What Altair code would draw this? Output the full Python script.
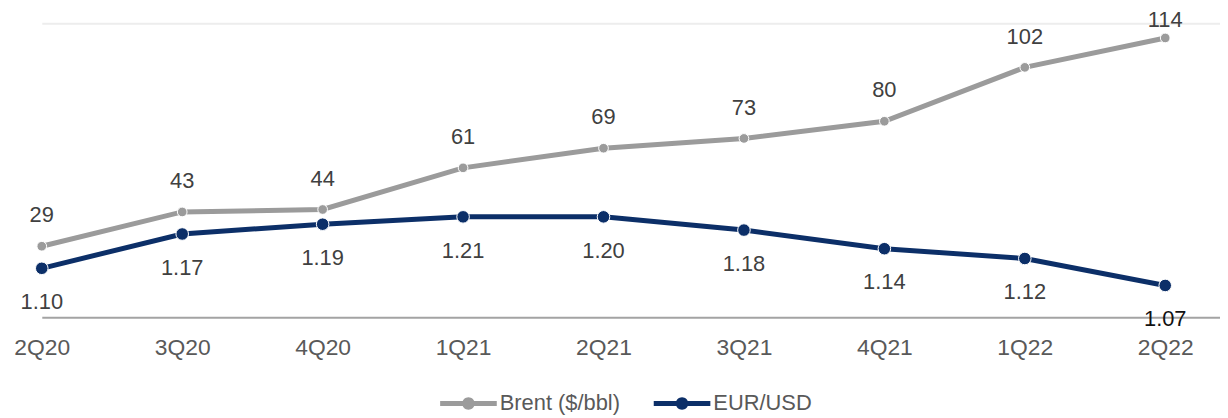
import altair as alt
import pandas as pd

quarters = ["2Q20", "3Q20", "4Q20", "1Q21", "2Q21", "3Q21", "4Q21", "1Q22", "2Q22"]
brent = [29, 43, 44, 61, 69, 73, 80, 102, 114]
brent_labels = ["29", "43", "44", "61", "69", "73", "80", "102", "114"]
eurusd = [1.10, 1.17, 1.19, 1.205, 1.205, 1.178, 1.14, 1.12, 1.065]
eurusd_labels = ["1.10", "1.17", "1.19", "1.21", "1.20", "1.18", "1.14", "1.12", "1.07"]
series_names = ["Brent ($/bbl)", "EUR/USD"]

GRAY = "#9b9b9b"
NAVY = "#0c2f68"
FONT = "Liberation Sans"
LABEL_COLOR = "#404040"
last = len(quarters) - 1

df_b = pd.DataFrame({"idx": range(len(quarters)), "quarter": quarters, "value": brent,
                     "label": brent_labels, "series": series_names[0]})
df_e = pd.DataFrame({"idx": range(len(quarters)), "quarter": quarters, "value": eurusd,
                     "label": eurusd_labels, "series": series_names[1]})

label_expr = "[" + ",".join(f"'{q}'" for q in quarters) + "][datum.value]"

x_enc = alt.X("idx:Q", scale=alt.Scale(domain=[0, 8.39], nice=False, zero=False),
              axis=alt.Axis(values=list(range(len(quarters))), labelExpr=label_expr,
                            domainColor="#a3a3a3", domainWidth=2, ticks=False, tickSize=0,
                            grid=False, labelFontSize=23, labelFont=FONT, labelColor="#595959",
                            labelPadding=19, title=None, labelFlush=False))

legend_path = ("M-1,-0.088 H1 V0.088 H-1 Z "
               "M0.22,0 A0.22,0.22 0 1,1 -0.22,0 A0.22,0.22 0 1,1 0.22,0 Z")

color_enc = alt.Color("series:N",
                      scale=alt.Scale(domain=series_names, range=[GRAY, NAVY]),
                      legend=alt.Legend(title=None, orient="none", direction="horizontal",
                                        legendX=401, legendY=354,
                                        symbolType=legend_path, symbolSize=3249,
                                        symbolStrokeWidth=0, labelFont=FONT,
                                        labelFontSize=22, labelColor="#595959",
                                        labelOffset=3, columnPadding=33))

yb = alt.Y("value:Q", scale=alt.Scale(domain=[0, 120], nice=False),
           axis=alt.Axis(values=[120], labels=False, ticks=False, domain=False, grid=True,
                         gridColor="#ededed", gridWidth=2, title=None))
ye = alt.Y("value:Q", scale=alt.Scale(domain=[1.0, 1.6], nice=False, zero=False), axis=None)

base_b = alt.Chart(df_b)
b_line = base_b.mark_line(color=GRAY, strokeWidth=5).encode(x=x_enc, y=yb)
b_pts = base_b.mark_circle(size=95, opacity=1, stroke="white", strokeWidth=1).encode(
    x=x_enc, y=yb, color=color_enc)
b_txt = base_b.transform_filter(f"datum.idx < {last}").mark_text(
    dy=-31, font=FONT, fontSize=22, color=LABEL_COLOR, baseline="middle").encode(
    x=x_enc, y=yb, text="label:N")
b_txt_last = base_b.transform_filter(f"datum.idx == {last}").mark_text(
    dy=-18, font=FONT, fontSize=22, color=LABEL_COLOR, baseline="middle").encode(
    x=x_enc, y=yb, text="label:N")
brent_layer = alt.layer(b_line, b_pts, b_txt, b_txt_last)

base_e = alt.Chart(df_e)
e_line = base_e.mark_line(color=NAVY, strokeWidth=5).encode(x=x_enc, y=ye)
e_pts = base_e.mark_circle(size=160, opacity=1, stroke="white", strokeWidth=1).encode(
    x=x_enc, y=ye, color=color_enc)
e_txt = base_e.mark_text(dy=34, font=FONT, fontSize=22, baseline="middle").encode(
    x=x_enc, y=ye, text="label:N",
    color=alt.condition(f"datum.idx == {last}", alt.value("#111111"), alt.value(LABEL_COLOR)))
eur_layer = alt.layer(e_line, e_pts, e_txt)

chart = alt.layer(brent_layer, eur_layer).resolve_scale(y="independent").properties(
    width=1186, height=296,
    autosize=alt.AutoSizeParams(type="none"),
    padding={"left": 34, "top": 14, "right": 0, "bottom": 100},
).configure_view(stroke=None)

chart.save("out.html", embed_options={"renderer": "svg", "actions": False})
